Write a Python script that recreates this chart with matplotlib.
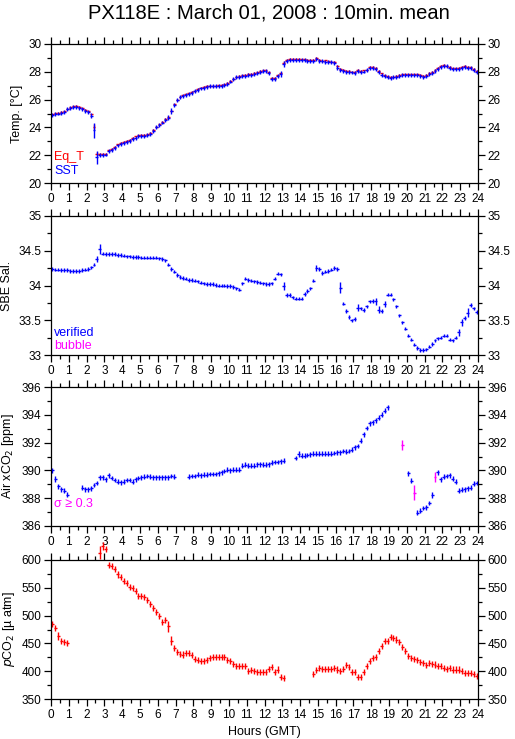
import matplotlib
matplotlib.use("Agg")
import matplotlib.pyplot as plt
import numpy as np
from matplotlib.ticker import MultipleLocator, FormatStrFormatter

plt.rcParams['font.family'] = ['Liberation Sans', 'DejaVu Sans']
nan = np.nan

# 10-minute bins over the day
hours = np.arange(144) / 6.0 + 1.0 / 12.0

eq_t = [
    24.95, 25.02, 25.05, 25.10, 25.15, 25.35,
    25.45, 25.52, 25.55, 25.50, 25.38, 25.25,
    25.15, 24.95, 24.05, 22.10, 22.12, 22.10,
    22.10, 22.35, 22.45, 22.62, 22.78, 22.88,
    22.95, 23.02, 23.12, 23.25, 23.35, 23.42,
    23.45, 23.45, 23.50, 23.62, 23.82, 24.05,
    24.22, 24.42, 24.62, 24.78, 25.20, 25.65,
    26.00, 26.22, 26.30, 26.38, 26.45, 26.55,
    26.65, 26.75, 26.85, 26.92, 26.98, 27.00,
    27.00, 27.00, 27.02, 27.05, 27.10, 27.20,
    27.35, 27.50, 27.65, 27.72, 27.75, 27.80,
    27.85, 27.85, 27.90, 27.95, 28.08, 28.10,
    28.10, 27.95, 27.55, 27.55, 27.75, 27.90,
    28.65, 28.88, 28.92, 28.92, 28.92, 28.92,
    28.90, 28.90, 28.85, 28.85, 28.88, 29.00,
    28.88, 28.80, 28.82, 28.75, 28.72, 28.72,
    28.42, 28.20, 28.12, 28.05, 28.05, 28.00,
    28.00, 28.15, 28.08, 28.10, 28.15, 28.38,
    28.38, 28.28, 28.05, 27.88, 27.75, 27.68,
    27.65, 27.65, 27.72, 27.78, 27.82, 27.82,
    27.82, 27.82, 27.82, 27.82, 27.80, 27.72,
    27.78, 27.92, 27.98, 28.12, 28.28, 28.45,
    28.50, 28.45, 28.35, 28.25, 28.25, 28.28,
    28.38, 28.42, 28.38, 28.32, 28.22, 28.05,
]
sst = [
    24.90, 24.98, 25.00, 25.02, 25.10, 25.30,
    25.40, 25.45, 25.48, 25.42, 25.30, 25.15,
    25.08, 24.85, 23.80, 21.85, 22.00, 22.00,
    22.05, 22.30, 22.40, 22.55, 22.70, 22.80,
    22.85, 22.95, 23.05, 23.15, 23.25, 23.35,
    23.40, 23.40, 23.45, 23.55, 23.75, 24.00,
    24.15, 24.35, 24.55, 24.70, 25.15, 25.60,
    25.95, 26.20, 26.25, 26.30, 26.40, 26.50,
    26.60, 26.70, 26.80, 26.85, 26.90, 26.95,
    26.95, 26.95, 26.95, 26.97, 27.05, 27.15,
    27.30, 27.45, 27.60, 27.65, 27.70, 27.72,
    27.78, 27.80, 27.85, 27.90, 28.00, 28.05,
    28.05, 27.90, 27.50, 27.50, 27.70, 27.85,
    28.55, 28.80, 28.85, 28.85, 28.85, 28.85,
    28.85, 28.85, 28.80, 28.78, 28.80, 28.90,
    28.80, 28.75, 28.72, 28.70, 28.68, 28.65,
    28.30, 28.15, 28.05, 28.00, 28.00, 27.95,
    27.92, 28.05, 28.00, 28.02, 28.10, 28.30,
    28.30, 28.20, 28.00, 27.80, 27.70, 27.60,
    27.58, 27.60, 27.65, 27.70, 27.75, 27.75,
    27.75, 27.75, 27.75, 27.75, 27.72, 27.65,
    27.72, 27.85, 27.90, 28.05, 28.20, 28.35,
    28.42, 28.40, 28.30, 28.20, 28.18, 28.20,
    28.30, 28.35, 28.30, 28.25, 28.15, 28.00,
]
salinity = [
    34.24, 34.23, 34.23, 34.22, 34.22, 34.22,
    34.21, 34.21, 34.21, 34.21, 34.22, 34.23,
    34.24, 34.26, 34.30, 34.38, 34.52, 34.46,
    34.45, 34.45, 34.45, 34.45, 34.44, 34.44,
    34.43, 34.42, 34.42, 34.41, 34.41, 34.41,
    34.40, 34.40, 34.40, 34.40, 34.40, 34.40,
    34.39, 34.38, 34.36, 34.30, 34.24, 34.20,
    34.15, 34.12, 34.11, 34.10, 34.08, 34.08,
    34.07, 34.06, 34.04, 34.03, 34.02, 34.02,
    34.02, 34.01, 34.00, 34.00, 34.00, 33.99,
    33.99, 33.98, 33.96, 33.94, 34.03, 34.10,
    34.08, 34.07, 34.06, 34.05, 34.04, 34.03,
    34.02, 34.02, 34.03, 34.10, 34.17, 34.16,
    33.99, 33.86, 33.86, 33.83, 33.81, 33.81,
    33.81, 33.88, 33.92, 33.96, 34.07, 34.25,
    34.24, 34.18, 34.20, 34.21, 34.23, 34.25,
    34.24, 33.97, 33.74, 33.63, 33.55, 33.50,
    33.52, 33.68, 33.67, 33.65, 33.70, 33.77,
    33.78, 33.77, 33.65, 33.63, 33.73, 33.87,
    33.87, 33.80, 33.70, 33.57, 33.47, 33.38,
    33.28, 33.22, 33.15, 33.10, 33.07, 33.07,
    33.08, 33.12, 33.16, 33.21, 33.24, 33.25,
    33.28, 33.28, 33.22, 33.21, 33.25, 33.33,
    33.47, 33.53, 33.61, 33.72, 33.67, 33.62,
]
air_xco2 = [
    390.00, 389.35, 388.85, 388.65, 388.55, 388.25,
    nan, nan, nan, nan, 388.75, 388.65,
    388.65, 388.70, 388.95, 389.10, 389.50, 389.50,
    389.35, 389.65, 389.45, 389.30, 389.20, 389.15,
    389.20, 389.30, 389.30, 389.20, 389.35, 389.45,
    389.50, 389.55, 389.60, 389.55, 389.50, 389.50,
    389.50, 389.50, 389.50, 389.50, 389.60, 389.55,
    nan, nan, nan, nan, 389.55, 389.60,
    389.60, 389.70, 389.65, 389.70, 389.70, 389.75,
    389.75, 389.75, 389.80, 389.85, 389.95, 390.05,
    390.00, 390.05, 390.05, 390.05, 390.35, 390.40,
    390.35, 390.35, 390.35, 390.45, 390.45, 390.40,
    390.40, 390.45, 390.55, 390.60, 390.60, 390.65,
    390.70, nan, nan, nan, 390.90, 391.15,
    391.05, 391.05, 391.10, 391.15, 391.20, 391.20,
    391.20, 391.20, 391.20, 391.20, 391.20, 391.25,
    391.30, 391.30, 391.40, 391.35, 391.40, 391.50,
    391.65, 391.75, 392.15, 392.60, 393.05, 393.40,
    393.45, 393.60, 393.80, 394.00, 394.30, 394.55,
    nan, nan, nan, nan, 391.80, nan,
    389.80, 389.25, 388.40, 386.95, 387.10, 387.30,
    387.35, 387.65, 388.25, 389.50, 389.85, 389.35,
    389.55, 389.60, 389.65, 389.40, 389.20, 388.55,
    388.60, 388.65, 388.70, 388.75, 389.05, 389.10,
]
air_flagged = [118, 122, 129]   # sigma >= 0.3
pco2 = [
    485, 477, 464, 455, 452, 451,
    nan, nan, nan, nan, nan, nan,
    nan, nan, nan, nan, 613, 625,
    620, 591, 589, 584, 574, 569,
    563, 558, 552, 550, 544, 536,
    535, 533, 528, 521, 513, 506,
    500, 489, 492, 481, 455, 441,
    434, 431, 430, 433, 432, 429,
    422, 420, 419, 419, 420, 423,
    425, 425, 425, 425, 426, 420,
    418, 413, 409, 409, 409, 409,
    400, 402, 400, 399, 399, 399,
    398, 404, 407, 398, 403, 389,
    388, nan, nan, nan, nan, nan,
    nan, nan, nan, nan, 395, 402,
    405, 404, 404, 404, 404, 406,
    403, 400, 404, 411, 407, 398,
    398, 389, 389, 399, 410, 418,
    423, 425, 437, 446, 454, 455,
    461, 460, 457, 452, 443, 437,
    428, 424, 422, 420, 417, 414,
    411, 414, 413, 412, 410, 409,
    406, 404, 406, 403, 403, 403,
    401, 397, 396, 397, 395, 392,
]

# standard deviations: a typical value and the bins that stand out
sst_sd, sst_sd_big = 0.14, {13: 0.16, 14: 0.55, 15: 0.45, 39: 0.2, 40: 0.22, 77: 0.2, 78: 0.22, 96: 0.18}
eqt_sd, eqt_sd_big = 0.05, {14: 0.2, 15: 0.12, 78: 0.1}
sal_sd, sal_sd_big = 0.025, {16: 0.07, 15: 0.04, 78: 0.06, 97: 0.08, 89: 0.04, 103: 0.05,
                             109: 0.05, 110: 0.05, 112: 0.04, 140: 0.07, 138: 0.05, 137: 0.05}
air_sd, air_sd_big = 0.17, {118: 0.36, 122: 0.55, 129: 0.35, 1: 0.22, 83: 0.22, 128: 0.22}
pco2_sd, pco2_sd_big = 5.5, {16: 12, 17: 7, 39: 10, 40: 8, 2: 7}


def sd_array(default, big):
    sd = np.full(len(hours), default)
    for k, v in big.items():
        sd[k] = v
    return sd


def draw(ax, y, sd, color, clip=True):
    y = np.asarray(y, dtype=float)
    ok = ~np.isnan(y)
    eb = ax.errorbar(hours[ok], y[ok], xerr=1.0 / 12.0, yerr=sd[ok], fmt='none',
                     ecolor=color, elinewidth=1.0, capsize=0)
    for part in eb.lines[2]:
        part.set_clip_on(clip)


def frame(ax, ylo, yhi, major, minor, fmt):
    ax.set_xlim(0, 24)
    ax.set_ylim(ylo, yhi)
    ax.xaxis.set_major_locator(MultipleLocator(1))
    ax.xaxis.set_minor_locator(MultipleLocator(0.5))
    ax.yaxis.set_major_locator(MultipleLocator(major))
    ax.yaxis.set_minor_locator(MultipleLocator(minor))
    ax.yaxis.set_major_formatter(FormatStrFormatter(fmt))
    ax.tick_params(which='both', direction='out', top=True, right=True,
                   labelright=True, labelsize=8.5, width=0.9, pad=2)
    ax.tick_params(which='major', length=5)
    ax.tick_params(which='minor', length=3)
    for s in ax.spines.values():
        s.set_linewidth(0.9)


fig = plt.figure(figsize=(5.15, 7.39), dpi=100)
W, H = 515.0, 739.0
left, width = 51 / W, 427 / W
tops = [44, 216, 387, 560]
axes = [fig.add_axes([left, 1 - (t + 139) / H, width, 139 / H]) for t in tops]

fig.text(269 / W, 1 - 13 / H, 'PX118E : March 01, 2008 : 10min. mean',
         ha='center', va='center', fontsize=14.5)

ax = axes[0]
frame(ax, 20, 30, 2, 1, '%g')
draw(ax, eq_t, sd_array(eqt_sd, eqt_sd_big), 'red')
draw(ax, sst, sd_array(sst_sd, sst_sd_big), 'blue')
ax.set_ylabel('Temp. [°C]', fontsize=9)
ax.text(0.008, 0.185, 'Eq_T', color='red', fontsize=9, transform=ax.transAxes, va='center')
ax.text(0.008, 0.085, 'SST', color='blue', fontsize=9, transform=ax.transAxes, va='center')

ax = axes[1]
frame(ax, 33, 35, 0.5, 0.25, '%g')
draw(ax, salinity, sd_array(sal_sd, sal_sd_big), 'blue')
ax.set_ylabel('SBE Sal.', fontsize=9)
ax.text(0.008, 0.16, 'verified', color='blue', fontsize=9, transform=ax.transAxes, va='center')
ax.text(0.008, 0.065, 'bubble', color='magenta', fontsize=9, transform=ax.transAxes, va='center')

ax = axes[2]
frame(ax, 386, 396, 2, 1, '%g')
air = np.array(air_xco2, dtype=float)
air_sd_arr = sd_array(air_sd, air_sd_big)
good = air.copy()
good[air_flagged] = nan
bad = np.full(len(hours), nan)
bad[air_flagged] = air[air_flagged]
draw(ax, good, air_sd_arr, 'blue')
draw(ax, bad, air_sd_arr, 'magenta')
ax.set_ylabel('Air xCO$_2$ [ppm]', fontsize=9)
ax.text(0.008, 0.158, 'σ ≥ 0.3', color='magenta', fontsize=9, transform=ax.transAxes, va='center')

ax = axes[3]
frame(ax, 350, 600, 50, 25, '%g')
draw(ax, pco2, sd_array(pco2_sd, pco2_sd_big), 'red', clip=False)
ax.set_ylabel('$p$CO$_2$ [µ atm]', fontsize=9)
ax.set_xlabel('Hours (GMT)', fontsize=9, labelpad=4)

# y label positions (right edge of rotated text, axes fraction)
for ax, xpos in zip(axes, [-0.066, -0.09, -0.083, -0.08]):
    ax.yaxis.set_label_coords(xpos, 0.5)

fig.savefig('out.png', dpi=100)
